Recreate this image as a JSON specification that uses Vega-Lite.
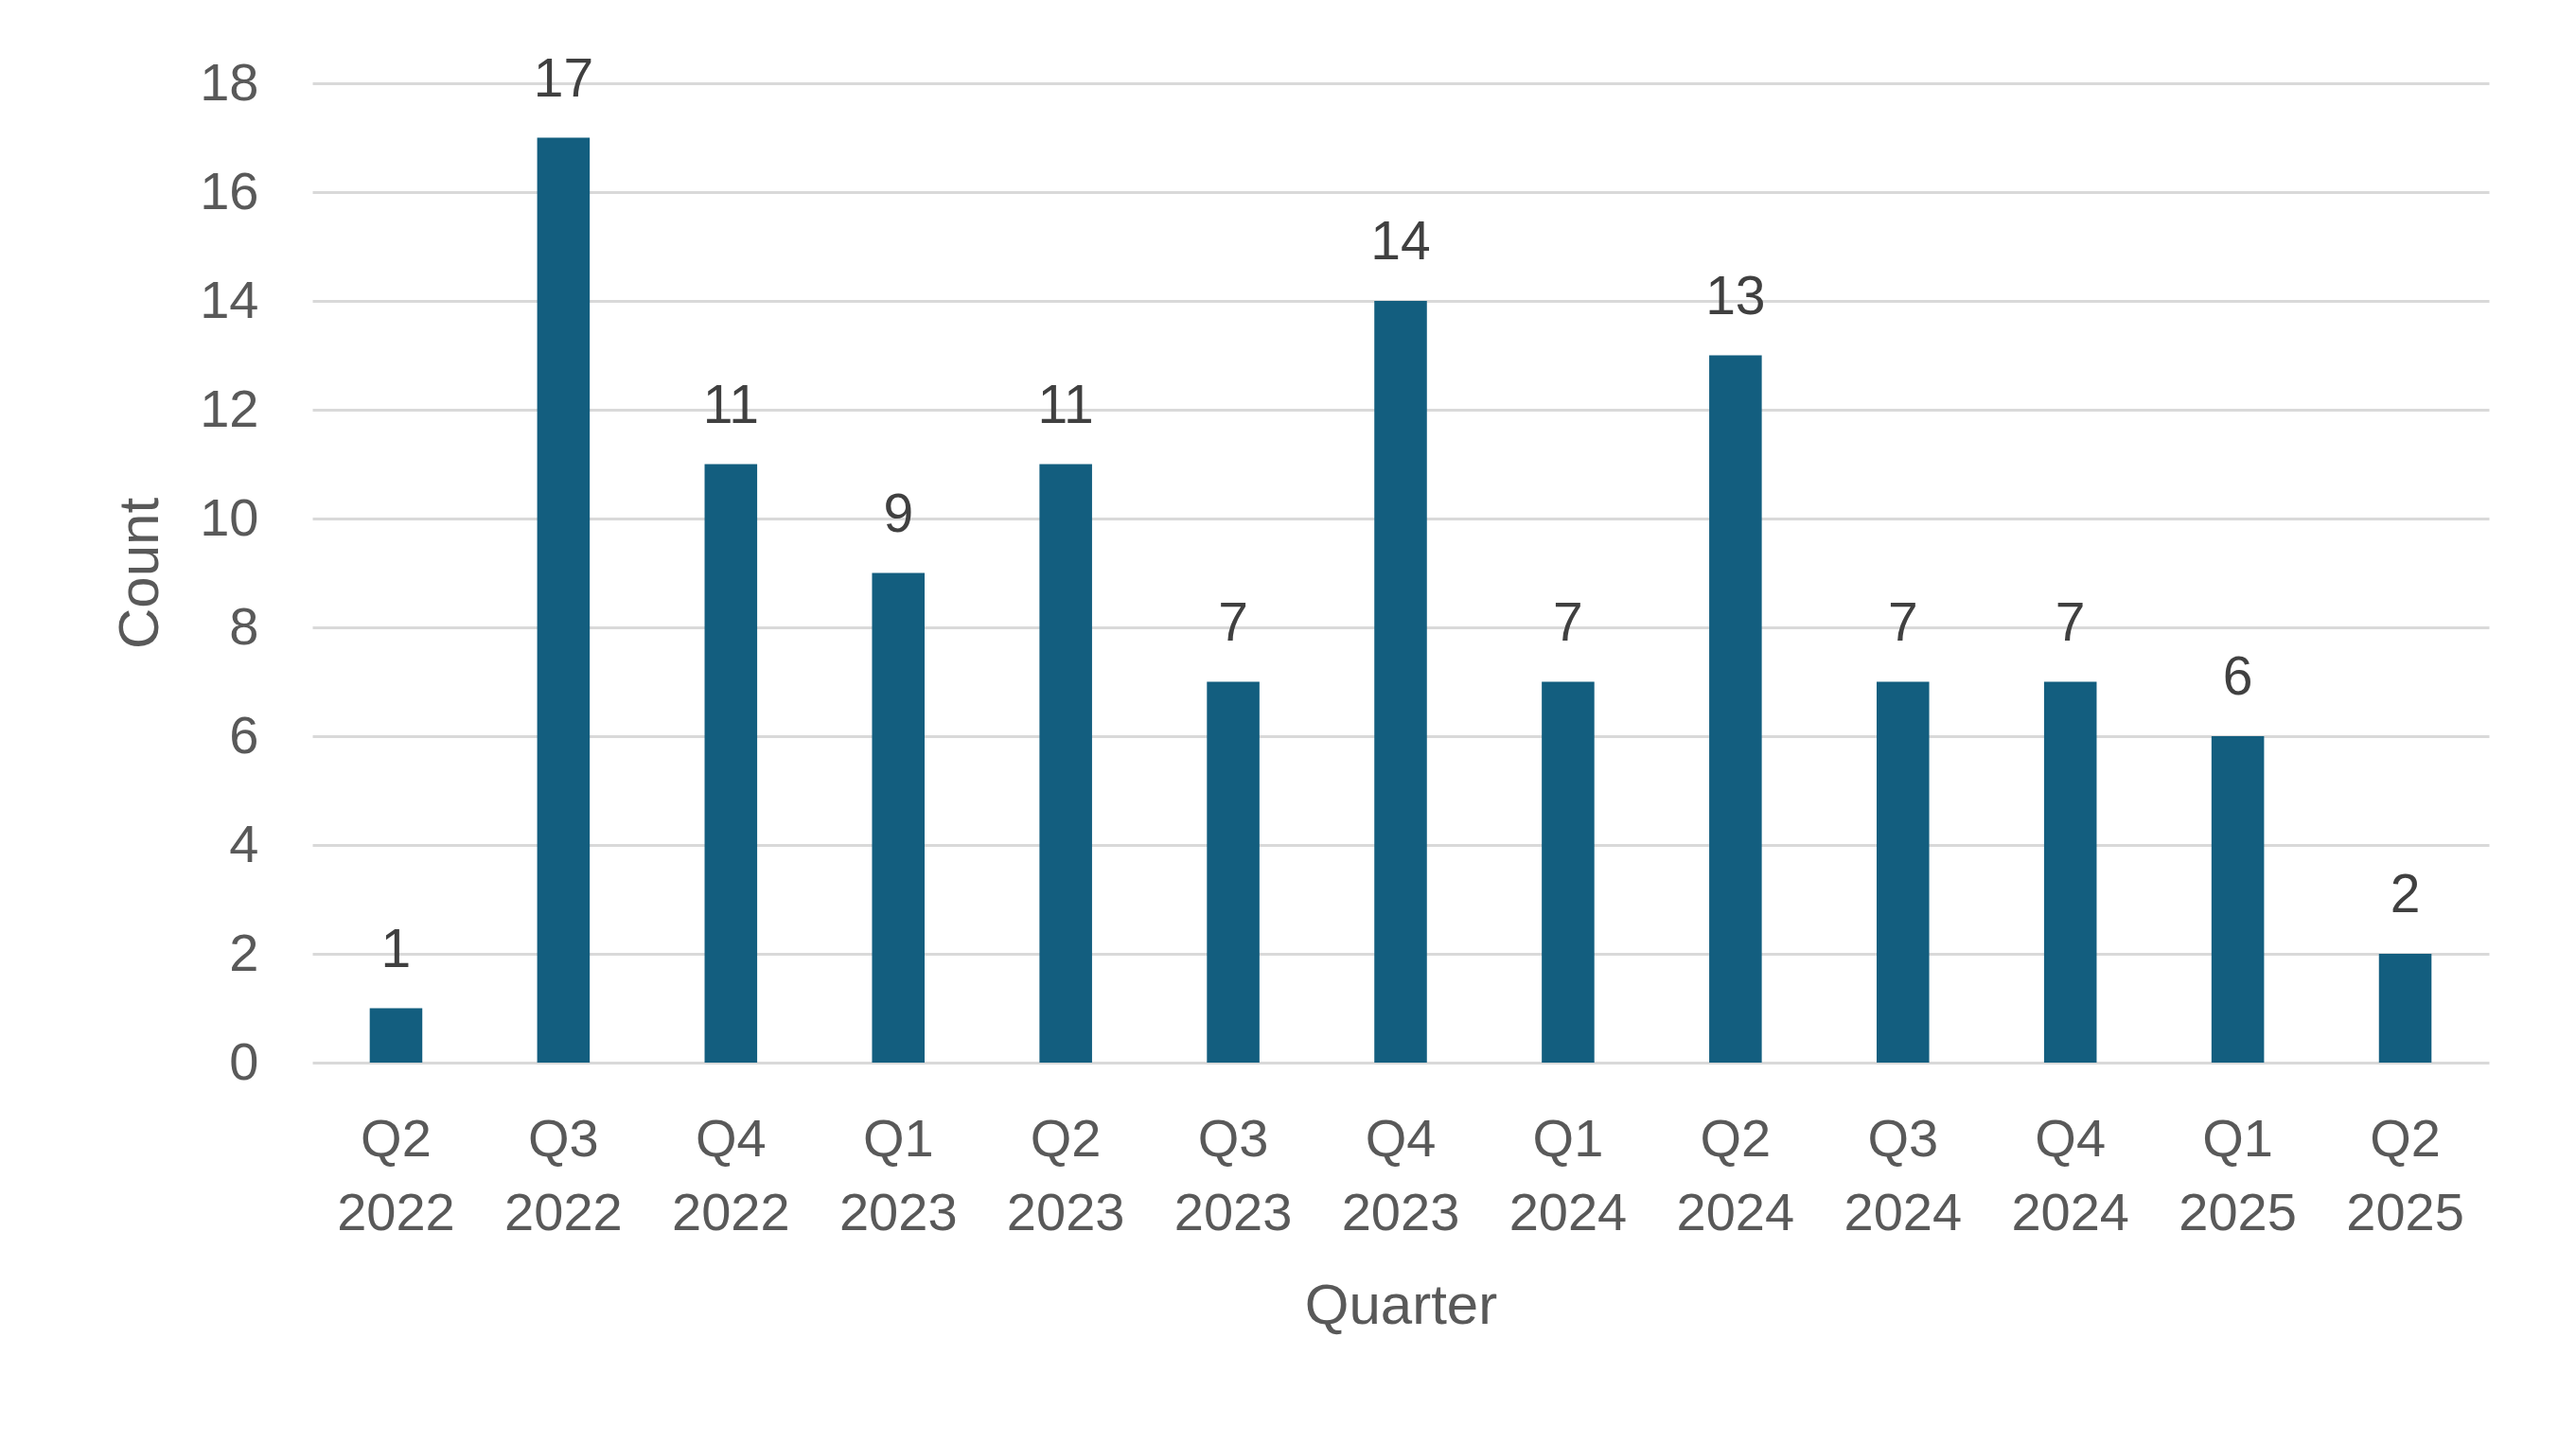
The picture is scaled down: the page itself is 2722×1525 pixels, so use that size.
{
  "$schema": "https://vega.github.io/schema/vega-lite/v6.json",
  "autosize": {"type": "none"},
  "width": 2300,
  "height": 1035,
  "padding": {"left": 330, "top": 88, "right": 92, "bottom": 402},
  "background": "white",
  "config": {
    "view": {"stroke": null},
    "font": "Liberation Sans",
    "axis": {"labelFont": "Liberation Sans", "titleFont": "Liberation Sans", "labelColor": "#595959", "titleColor": "#595959", "labelFontSize": 56, "titleFontSize": 60, "titleFontWeight": "normal"}
  },
  "data": {
    "values": [
      {"quarter": "Q2 2022", "count": 1},
      {"quarter": "Q3 2022", "count": 17},
      {"quarter": "Q4 2022", "count": 11},
      {"quarter": "Q1 2023", "count": 9},
      {"quarter": "Q2 2023", "count": 11},
      {"quarter": "Q3 2023", "count": 7},
      {"quarter": "Q4 2023", "count": 14},
      {"quarter": "Q1 2024", "count": 7},
      {"quarter": "Q2 2024", "count": 13},
      {"quarter": "Q3 2024", "count": 7},
      {"quarter": "Q4 2024", "count": 7},
      {"quarter": "Q1 2025", "count": 6},
      {"quarter": "Q2 2025", "count": 2}
    ]
  },
  "encoding": {
    "x": {
      "field": "quarter", "type": "nominal", "sort": null,
      "scale": {"paddingInner": 0.686, "paddingOuter": 0.343},
      "axis": {
        "title": "Quarter", "labelAngle": 0, "ticks": false, "domain": false,
        "labelExpr": "split(datum.label, ' ')", "labelLineHeight": 78,
        "labelBaseline": "top", "labelPadding": 54,
        "titleY": 257, "titleBaseline": "middle"
      }
    },
    "y": {
      "field": "count", "type": "quantitative",
      "scale": {"domain": [0, 18]},
      "axis": {
        "title": "Count", "values": [0, 2, 4, 6, 8, 10, 12, 14, 16, 18],
        "ticks": false, "domain": false, "labelPadding": 57,
        "gridColor": "#d9d9d9", "gridWidth": 3,
        "titleX": -182, "titleY": 517.5, "titleAngle": -90, "titleBaseline": "middle", "titleAlign": "center"
      }
    }
  },
  "layer": [
    {"mark": {"type": "bar", "color": "#135e7f"}},
    {"mark": {"type": "text", "baseline": "alphabetic", "dy": -44, "fontSize": 57, "color": "#404040", "font": "Liberation Sans"},
     "encoding": {"text": {"field": "count", "type": "quantitative"}}}
  ]
}
